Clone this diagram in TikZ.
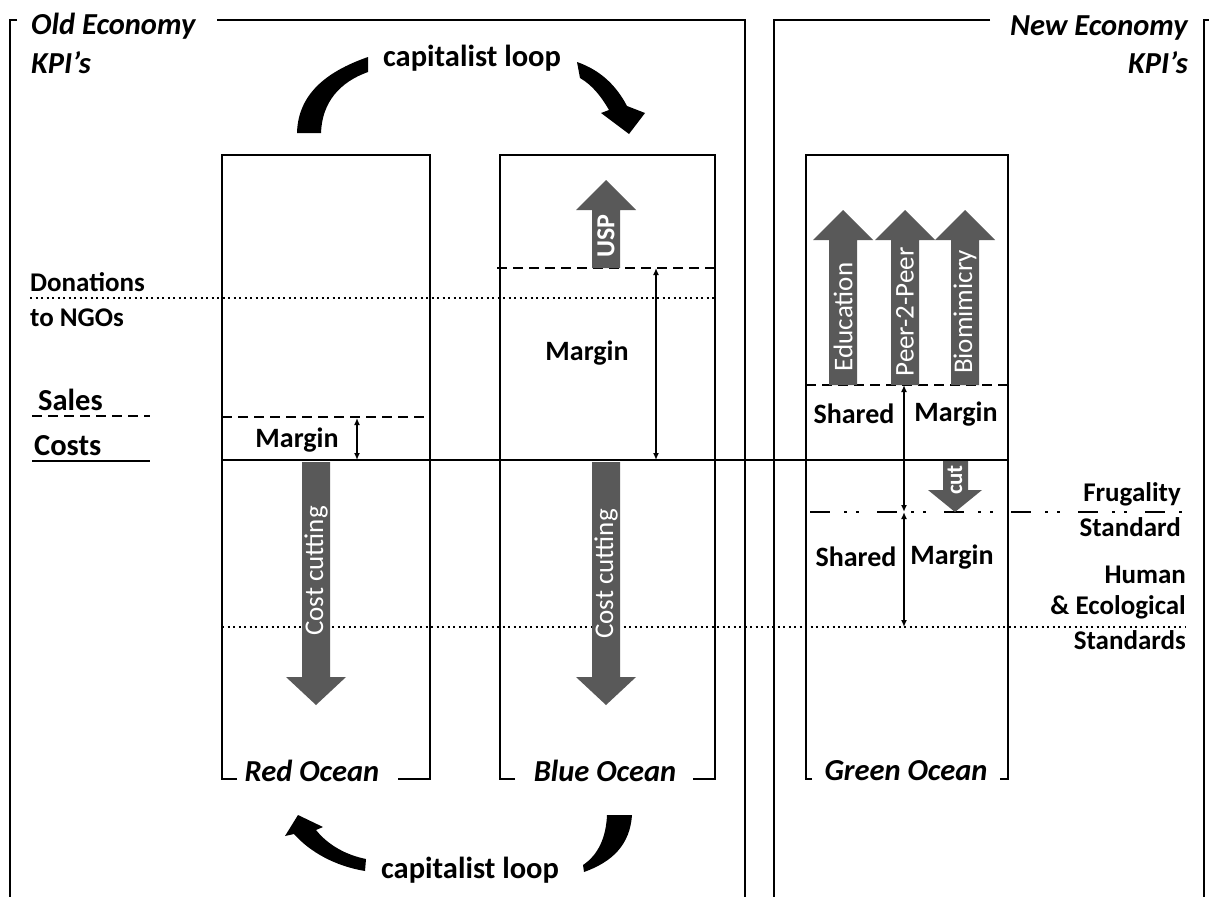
\documentclass[tikz,border=0pt]{standalone}
\usepackage{fontspec}
\setmainfont{Carlito}
\usetikzlibrary{arrows.meta}

\definecolor{arrowgray}{RGB}{89,89,89}

\tikzset{
  boxline/.style={line width=2.6pt},
  frameline/.style={line width=1.8pt},
  levelline/.style={line width=1.8pt},
  salesline/.style={line width=1.8pt, dash pattern=on 10pt off 6pt},
  donline/.style={line width=1.8pt, dash pattern=on 2pt off 3.5pt},
  frugline/.style={line width=1.8pt, dash pattern=on 20pt off 14pt on 3pt off 9pt on 3pt off 18pt},
  dimarrow/.style={line width=1.5pt, {Latex[length=7pt,width=6pt]}-{Latex[length=7pt,width=6pt]}},
  label/.style={inner sep=0pt, font=\fontsize{28}{30}\selectfont\bfseries},
  biglabel/.style={inner sep=0pt, font=\fontsize{30.5}{32}\selectfont\bfseries},
  small/.style={inner sep=0pt, font=\fontsize{27}{29}\selectfont\bfseries},
  titletext/.style={inner sep=0pt, font=\fontsize{30.5}{32}\selectfont\bfseries\itshape},
  arrowtext/.style={inner sep=0pt, text=white, rotate=90, font=\fontsize{27}{29}\selectfont},
}

% grey block arrow: centre x, tail y, head base y, tip y
\newcommand{\bigarrow}[4]{%
  \fill[arrowgray] ({#1-14},#2) -- ({#1-14},#3) -- ({#1-30},#3) -- (#1,#4)
    -- ({#1+30},#3) -- ({#1+14},#3) -- ({#1+14},#2) -- cycle;}

\begin{document}
\begin{tikzpicture}[x=1pt,y=-1pt]
  \useasboundingbox (0,0) rectangle (1209,897);
  \fill[white] (0,0) rectangle (1209,897);

  % frames
  \draw[frameline] (17,20) -- (10,20) -- (10,897);
  \draw[frameline] (217,20) -- (745,20) -- (745,897);
  \draw[frameline] (990,20) -- (774,20) -- (774,897);
  \draw[frameline] (1209,20) -- (1204,20) -- (1204,897);
  \node[titletext, anchor=west] (oldeco) at (31,26) {Old Economy};
  \node[titletext, anchor=west] (oldkpi) at (31,63) {KPI’s};
  \node[titletext, anchor=east] (neweco) at (1188,28) {New Economy};
  \node[titletext, anchor=east] (newkpi) at (1188,63) {KPI’s};

  % levels
  \draw[donline] (30,298) -- (715,298);
  \draw[donline] (222,627) -- (1185,627);
  \draw[salesline] (32,416) -- (150,416);
  \draw[salesline] (222,417) -- (430,417);
  \draw[salesline] (497,268) -- (715,268);
  \draw[salesline] (806,385) -- (1008,385);
  \draw[levelline] (32,461) -- (150,461);
  \draw[levelline] (222,460) -- (1008,460);
  \draw[frugline] (810,512) -- (1184,512);

  % grey arrows
  \bigarrow{316}{462}{677}{705}
  \bigarrow{606}{462}{677}{705}
  \bigarrow{606}{268}{210}{180}
  \bigarrow{843}{385}{240}{210}
  \bigarrow{905}{385}{240}{210}
  \bigarrow{965}{385}{240}{210}
  \fill[arrowgray] (943,461) -- (943,490) -- (928,490) -- (955,512)
    -- (982,490) -- (968,490) -- (968,461) -- cycle;
  \node[arrowtext] (redcut) at (316,571) {Cost cutting};
  \node[arrowtext] (bluecut) at (606,574) {Cost cutting};
  \node[arrowtext, font=\fontsize{26}{28}\selectfont\bfseries] (usp) at (606,236) {USP};
  \node[arrowtext] (edu) at (843,317) {Education};
  \node[arrowtext] (p2p) at (905,312) {Peer-2-Peer};
  \node[arrowtext] (bio) at (965,312) {Biomimicry};
  \node[arrowtext, font=\fontsize{23}{25}\selectfont\bfseries] (cut) at (955,480) {cut};

  % ocean boxes
  \draw[boxline] (237,779) -- (222,779) -- (222,155) -- (430,155) -- (430,779) -- (398,779);
  \draw[boxline] (515,779) -- (500,779) -- (500,155) -- (715,155) -- (715,779) -- (693,779);
  \draw[boxline] (812,779) -- (806,779) -- (806,155) -- (1008,155) -- (1008,779) -- (1000,779);
  \node[titletext] (red) at (312,771) {Red Ocean};
  \node[titletext] (blue) at (605,771) {Blue Ocean};
  \node[titletext] (green) at (906,771) {Green Ocean};

  % margins
  \coordinate (rs) at (357,418);
  \coordinate (rc) at (357,460);
  \coordinate (bs) at (656,268);
  \coordinate (bc) at (656,460);
  \coordinate (gs) at (904,385);
  \coordinate (gf) at (904,512);
  \coordinate (gh) at (904,627);
  \draw[dimarrow] (rs) -- (rc);
  \draw[dimarrow] (bs) -- (bc);
  \draw[dimarrow] (gs) -- (gf);
  \draw[dimarrow] (gf) -- (gh);
  \node[label] (rmargin) at (297,440) {Margin};
  \node[label] (bmargin) at (587,353) {Margin};
  \node[label] (gshared1) at (854,414) {Shared};
  \node[label] (gmargin1) at (956,414) {Margin};
  \node[label] (gshared2) at (856,557) {Shared};
  \node[label] (gmargin2) at (952,557) {Margin};

  % left labels
  \node[small, anchor=west] (don) at (30,282) {Donations};
  \node[small, anchor=west] (ngo) at (30,318) {to NGOs};
  \node[biglabel, anchor=west] (sales) at (38,400) {Sales};
  \node[biglabel, anchor=west] (costs) at (34,446) {Costs};

  % right labels
  \node[small, anchor=east] (frug) at (1181,494) {Frugality};
  \node[small, anchor=east] (std) at (1181,527) {Standard};
  \node[small, anchor=east] (human) at (1186,575) {Human};
  \node[small, anchor=east] (eco) at (1186,607) {\& Ecological};
  \node[small, anchor=east] (stds) at (1186,640) {Standards};

  % capitalist loop
  \node[biglabel] (looptop) at (472,58) {capitalist loop};
  \node[biglabel] (loopbot) at (470,870) {capitalist loop};
  \fill (297,133) .. controls (298,95) and (325,72) .. (368,57) -- (368,72)
    .. controls (340,82) and (322,102) .. (321,133) -- cycle;
  \fill (577,62) .. controls (600,70) and (616,85) .. (627,106) -- (645,113) -- (629,134)
    -- (601,113) -- (609,110) .. controls (601,96) and (592,85) .. (580,78) -- cycle;
  \fill (607,815) -- (632,815) .. controls (630,845) and (612,862) .. (584,872) -- (583,865)
    .. controls (598,855) and (606,838) .. (607,815) -- cycle;
  \fill (366,859) .. controls (346,855) and (328,845) .. (316,830) -- (323,827) -- (298,815)
    -- (285,836) -- (294,834) .. controls (310,852) and (335,866) .. (365,871) -- cycle;
\end{tikzpicture}
\end{document}
